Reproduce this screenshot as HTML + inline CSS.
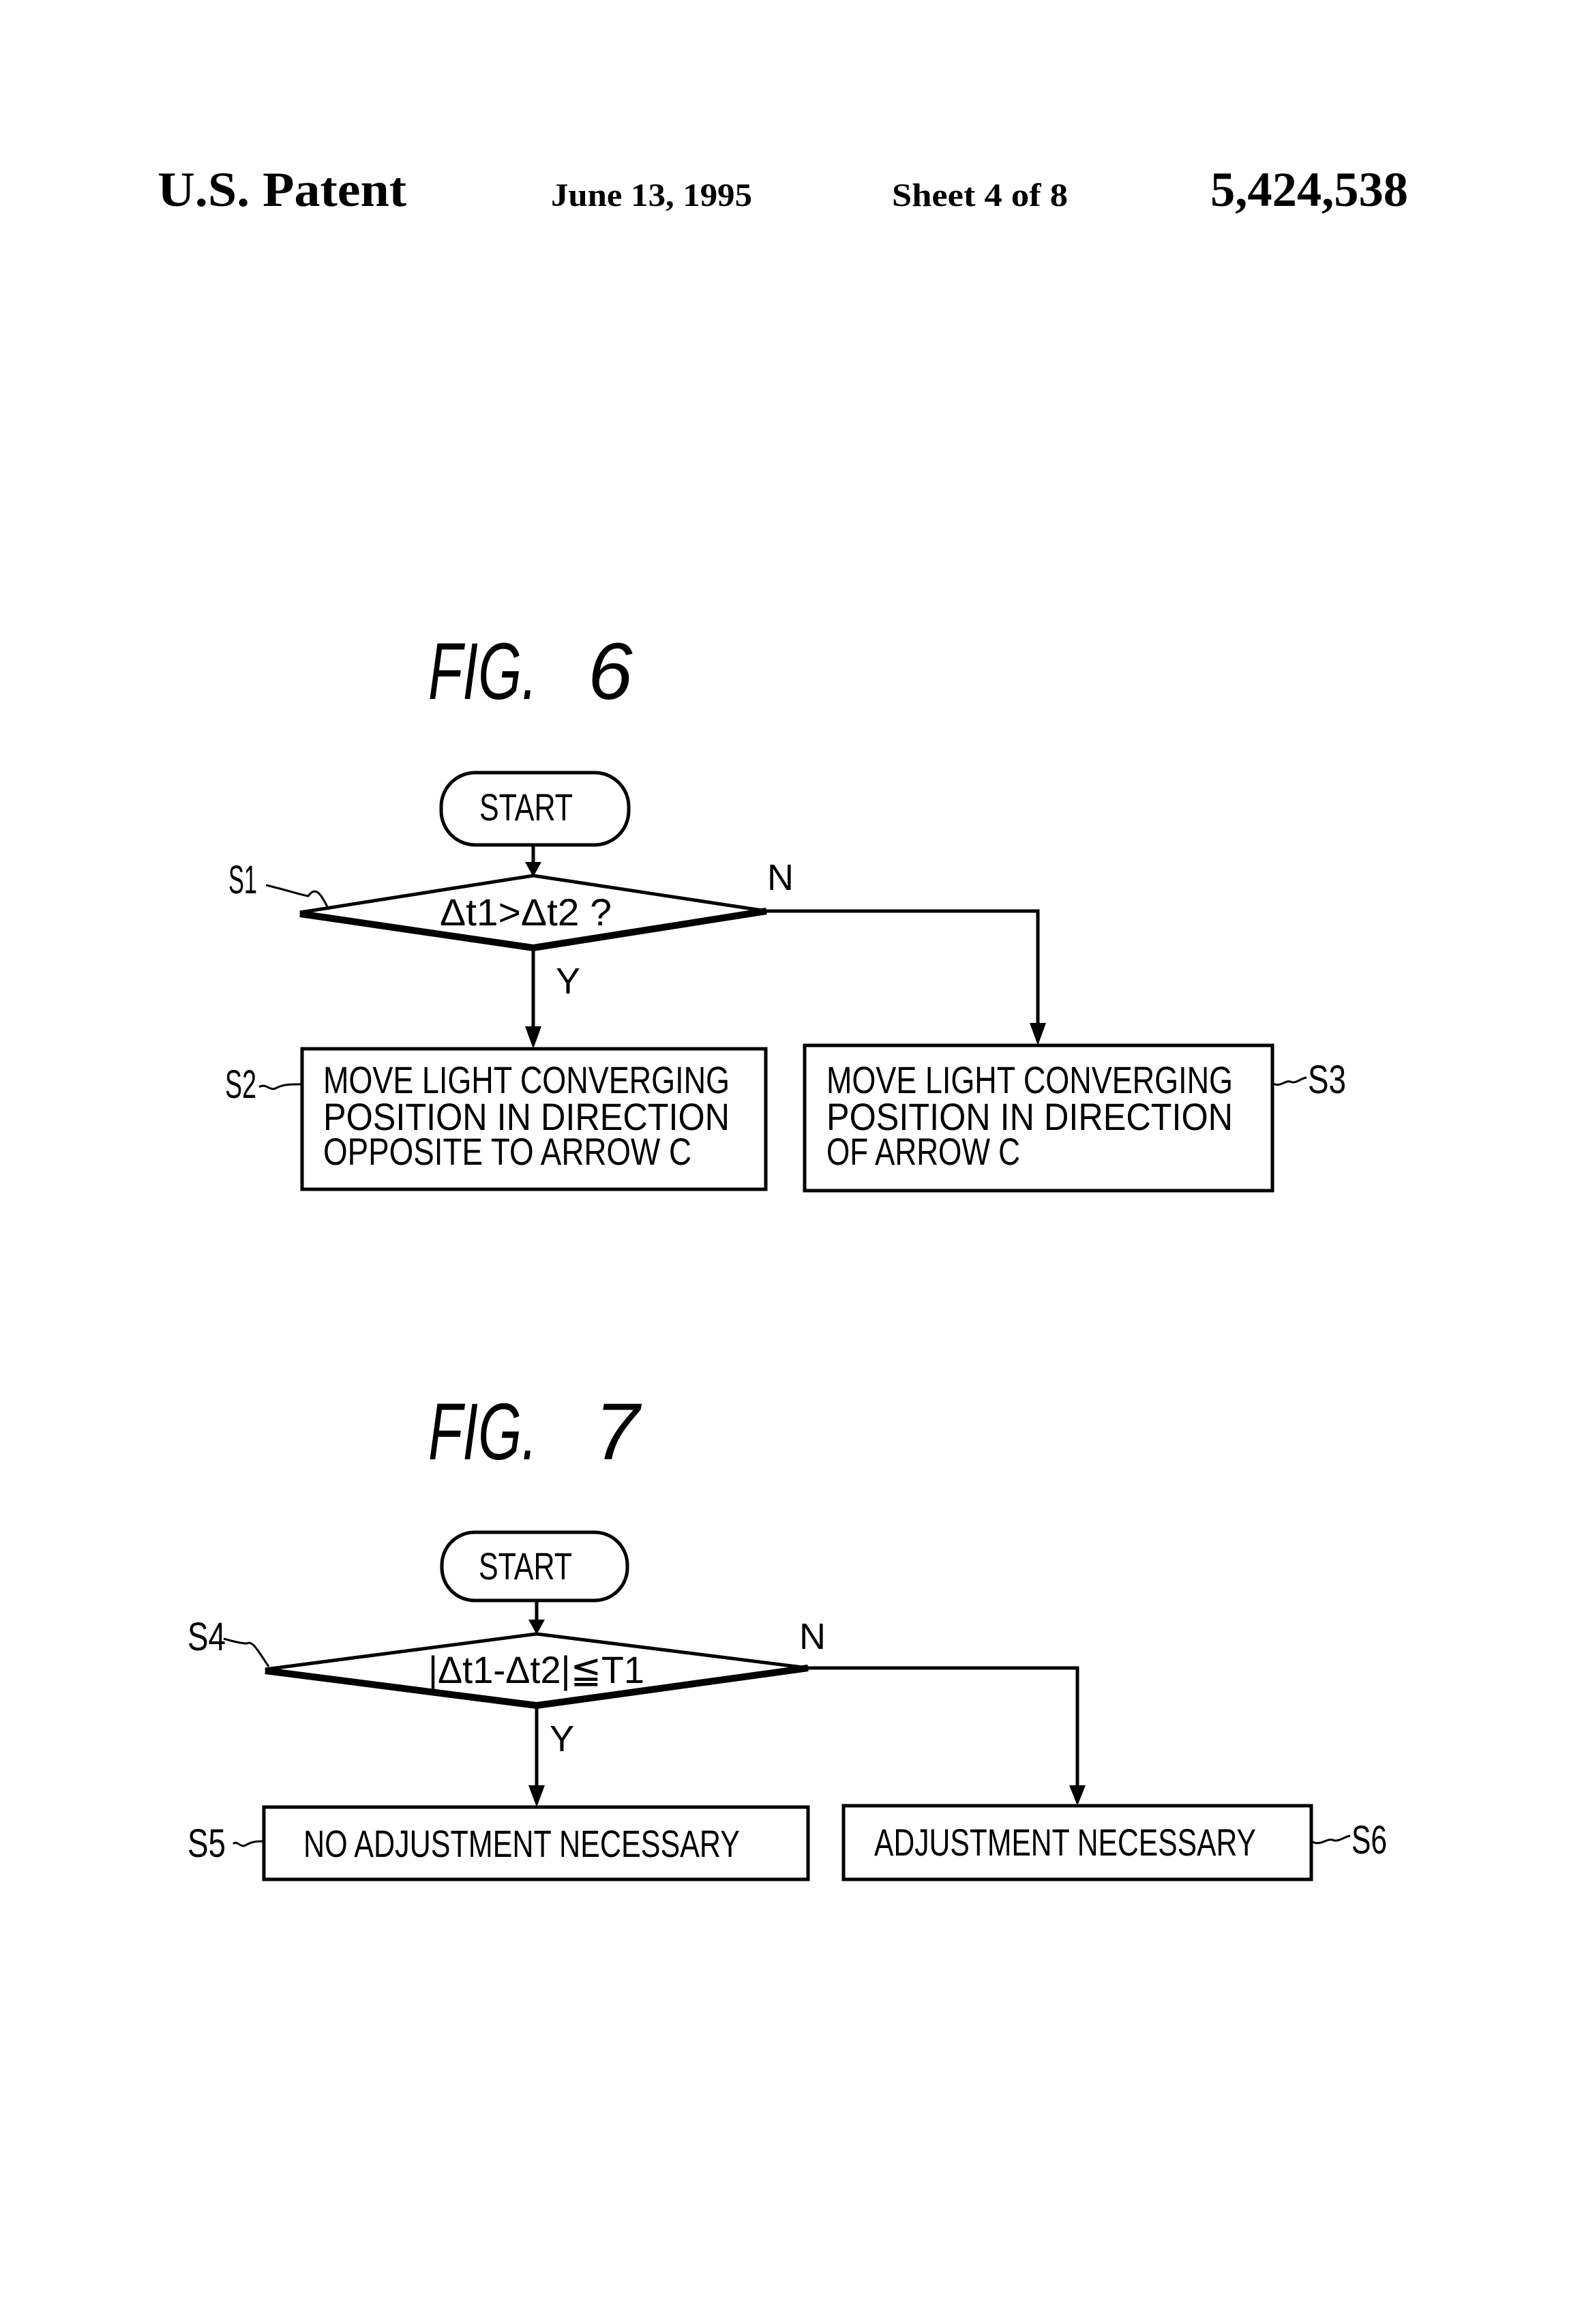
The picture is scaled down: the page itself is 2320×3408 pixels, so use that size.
<!DOCTYPE html>
<html><head><meta charset="utf-8"><style>html,body{margin:0;padding:0;background:#fff;}svg{display:block}</style></head>
<body>
<svg width="2320" height="3408" viewBox="0 0 2320 3408" xmlns="http://www.w3.org/2000/svg">
<rect width="2320" height="3408" fill="#fff"/>
<g font-family="Liberation Serif, serif" font-weight="bold" fill="#000">
<text x="231" y="302" font-size="72" textLength="365" lengthAdjust="spacingAndGlyphs">U.S. Patent</text>
<text x="808" y="302" font-size="48" textLength="295" lengthAdjust="spacingAndGlyphs">June 13, 1995</text>
<text x="1308" y="302" font-size="48" textLength="258" lengthAdjust="spacingAndGlyphs">Sheet 4 of 8</text>
<text x="1775" y="302" font-size="72" textLength="290" lengthAdjust="spacingAndGlyphs">5,424,538</text>
</g>
<g font-family="Liberation Sans, sans-serif" font-style="italic" fill="#000" font-size="118">
<text x="628" y="1025" textLength="160" lengthAdjust="spacingAndGlyphs">FIG.</text>
<text x="862" y="1025">6</text>
<text x="628" y="2140" textLength="160" lengthAdjust="spacingAndGlyphs">FIG.</text>
<text x="872" y="2140">7</text>
</g>
<g fill="none" stroke="#000" stroke-width="5">
<!-- FIG 6 -->
<rect x="647" y="1133" width="275" height="106" rx="50"/>
<line x1="782" y1="1239" x2="782" y2="1270"/>
<polygon points="440,1338 782,1284 1124,1336 782,1390"/>
<polyline points="440,1340 782,1390 1124,1336" stroke-width="10"/>
<line x1="782" y1="1390" x2="782" y2="1510"/>
<polyline points="1124,1336 1522,1336 1522,1505"/>
<rect x="443" y="1538" width="680" height="206"/>
<rect x="1180" y="1533" width="686" height="213"/>
<path d="M390,1298 C420,1305 440,1312 452,1314 C462,1300 470,1308 482,1334" stroke-width="3"/>
<path d="M380,1594 C390,1588 396,1600 404,1596 C415,1590 425,1590 443,1590" stroke-width="3"/>
<path d="M1866,1588 C1876,1596 1884,1584 1892,1586 C1900,1590 1906,1582 1916,1580" stroke-width="3"/>
<!-- FIG 7 -->
<rect x="648" y="2247" width="272" height="100" rx="48"/>
<line x1="787" y1="2347" x2="787" y2="2382"/>
<polygon points="389,2448 787,2396 1185,2446 787,2501"/>
<polyline points="389,2450 787,2501 1185,2446" stroke-width="10"/>
<line x1="787" y1="2501" x2="787" y2="2625"/>
<polyline points="1185,2446 1580,2446 1580,2625"/>
<rect x="387" y="2650" width="798" height="106"/>
<rect x="1237" y="2648" width="686" height="108"/>
<path d="M328,2403 C345,2408 355,2410 362,2410 C370,2405 378,2420 394,2444" stroke-width="3"/>
<path d="M342,2704 C348,2698 352,2710 360,2706 C370,2700 378,2700 387,2700" stroke-width="3"/>
<path d="M1923,2700 C1936,2708 1944,2696 1954,2698 C1962,2702 1970,2694 1980,2692" stroke-width="3"/>
</g>
<g fill="#000">
<polygon points="770,1264 794,1264 782,1286"/>
<polygon points="770,1505 794,1505 782,1538"/>
<polygon points="1510,1500 1534,1500 1522,1533"/>
<polygon points="775,2375 799,2375 787,2397"/>
<polygon points="775,2618 799,2618 787,2650"/>
<polygon points="1568,2618 1592,2618 1580,2648"/>
</g>
<g font-family="Liberation Sans, sans-serif" fill="#000" font-size="56">
<text x="703" y="1203" textLength="137" lengthAdjust="spacingAndGlyphs">START</text>
<text x="645" y="1357" textLength="252" lengthAdjust="spacingAndGlyphs">Δt1&gt;Δt2 ?</text>
<text x="1125" y="1305" font-size="54">N</text>
<text x="815" y="1457" font-size="54">Y</text>
<text x="335" y="1310" font-size="58" textLength="42" lengthAdjust="spacingAndGlyphs">S1</text>
<text x="330" y="1610" font-size="58" textLength="46" lengthAdjust="spacingAndGlyphs">S2</text>
<text x="1918" y="1603" font-size="58" textLength="56" lengthAdjust="spacingAndGlyphs">S3</text>
<text x="474" y="1603" textLength="596" lengthAdjust="spacingAndGlyphs">MOVE LIGHT CONVERGING</text>
<text x="474" y="1657" textLength="596" lengthAdjust="spacingAndGlyphs">POSITION IN DIRECTION</text>
<text x="474" y="1708" textLength="540" lengthAdjust="spacingAndGlyphs">OPPOSITE TO ARROW C</text>
<text x="1212" y="1603" textLength="596" lengthAdjust="spacingAndGlyphs">MOVE LIGHT CONVERGING</text>
<text x="1212" y="1657" textLength="596" lengthAdjust="spacingAndGlyphs">POSITION IN DIRECTION</text>
<text x="1212" y="1708" textLength="284" lengthAdjust="spacingAndGlyphs">OF ARROW C</text>
<text x="702" y="2316" textLength="137" lengthAdjust="spacingAndGlyphs">START</text>
<text x="628" y="2468" textLength="317" lengthAdjust="spacingAndGlyphs">|Δt1-Δt2|≦T1</text>
<text x="1172" y="2418" font-size="54">N</text>
<text x="806" y="2568" font-size="54">Y</text>
<text x="275" y="2420" font-size="58" textLength="56" lengthAdjust="spacingAndGlyphs">S4</text>
<text x="275" y="2723" font-size="58" textLength="56" lengthAdjust="spacingAndGlyphs">S5</text>
<text x="1982" y="2718" font-size="58" textLength="52" lengthAdjust="spacingAndGlyphs">S6</text>
<text x="445" y="2723" textLength="640" lengthAdjust="spacingAndGlyphs">NO ADJUSTMENT NECESSARY</text>
<text x="1282" y="2721" textLength="560" lengthAdjust="spacingAndGlyphs">ADJUSTMENT NECESSARY</text>
</g>
</svg>
</body></html>
